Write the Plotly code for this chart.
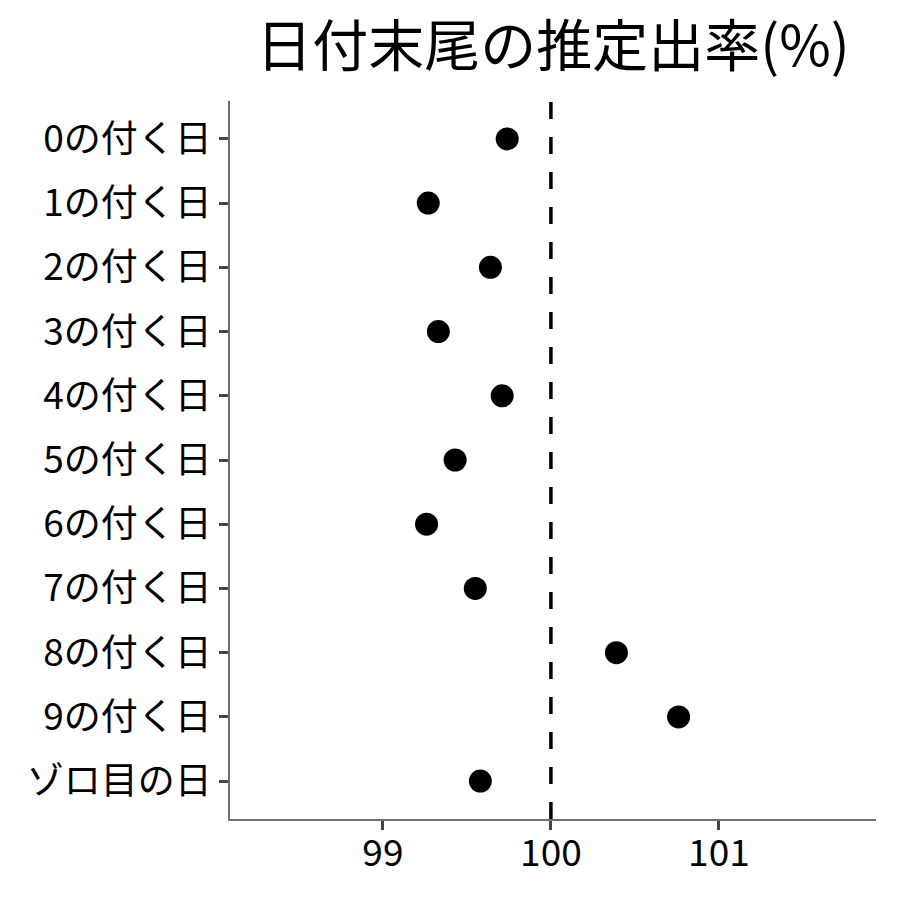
import plotly.graph_objects as go

categories = ["0の付く日", "1の付く日", "2の付く日", "3の付く日", "4の付く日",
              "5の付く日", "6の付く日", "7の付く日", "8の付く日", "9の付く日", "ゾロ目の日"]
values = [99.74, 99.27, 99.64, 99.33, 99.71, 99.43, 99.26, 99.55, 100.39, 100.76, 99.58]
x_ticks = [99, 100, 101]
ref_value = 100
title_text = "日付末尾の推定出率(%)"

FONT = "Noto Sans CJK JP"

fig = go.Figure()
fig.add_trace(go.Scatter(
    x=values, y=categories, mode="markers",
    marker=dict(color="black", size=23, line=dict(width=0)),
    showlegend=False, hoverinfo="x+y"))

fig.add_shape(type="line", x0=ref_value, x1=ref_value, xref="x", y0=0, y1=1, yref="paper",
              line=dict(color="black", width=3.5, dash="17px,18px"))

fig.update_layout(
    width=900, height=900,
    paper_bgcolor="white", plot_bgcolor="white",
    margin=dict(l=222, r=32, t=93, b=89),
    font=dict(family=FONT, color="black"),
    title=dict(text=title_text, x=0.5, xanchor="center", xref="paper",
               y=1 - 38 / 900, yanchor="middle", yref="container",
               font=dict(family=FONT, size=56, color="black")),
    xaxis=dict(range=[98.09, 101.935], tickvals=x_ticks, ticktext=[str(v) for v in x_ticks],
               showgrid=False, zeroline=False, showline=True, linecolor="#6e6e6e", linewidth=1.5,
               ticks="outside", ticklen=9, tickwidth=3, tickcolor="#444444",
               ticklabelstandoff=-8,
               tickfont=dict(family=FONT, size=37, color="black")),
    yaxis=dict(categoryorder="array", categoryarray=categories, autorange=False,
               range=[len(categories) - 1 + 0.59, -0.59],
               showgrid=False, zeroline=False, showline=True, linecolor="#6e6e6e", linewidth=1.5,
               ticks="outside", ticklen=9, tickwidth=3, tickcolor="#444444",
               tickfont=dict(family=FONT, size=37, color="black")),
)

fig.write_html("out.html")
